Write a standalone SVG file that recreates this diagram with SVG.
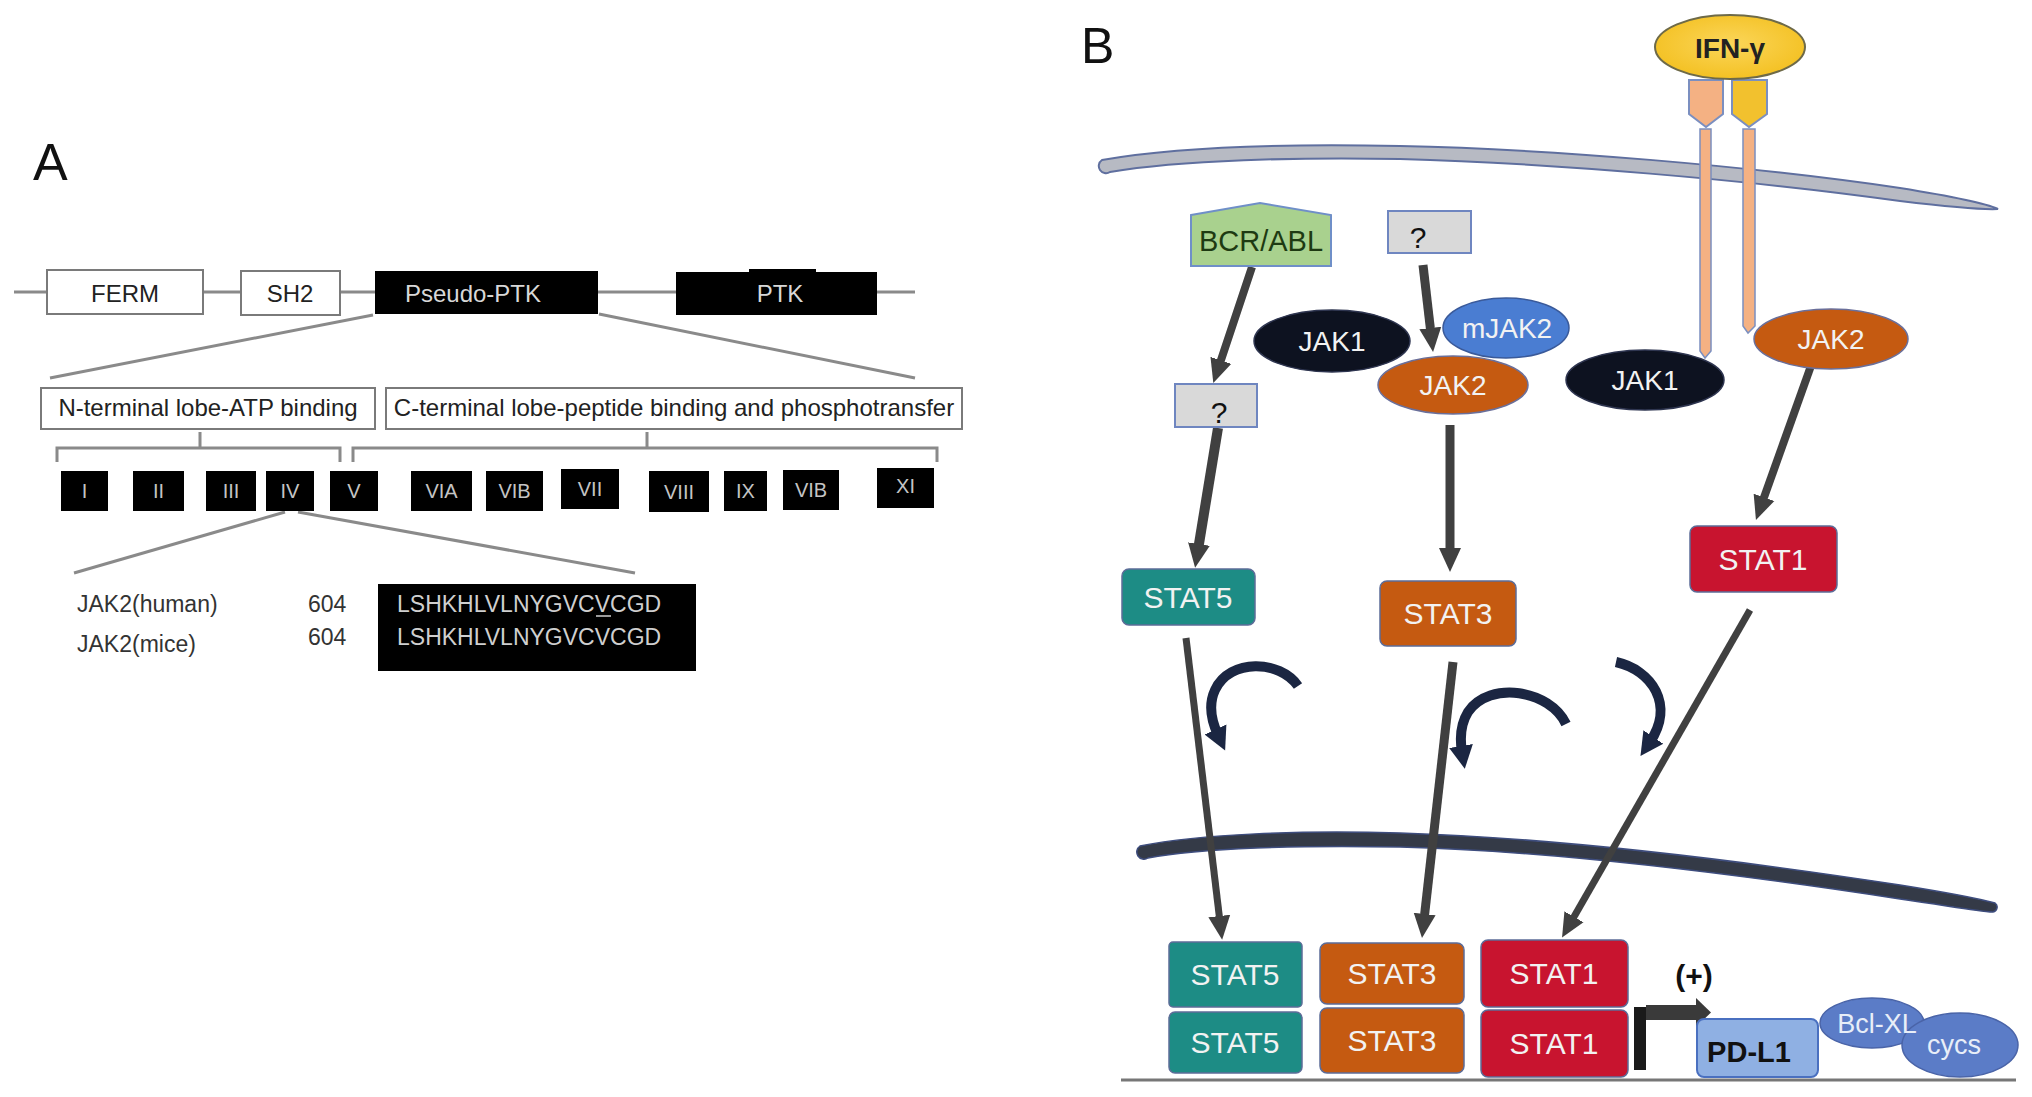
<svg xmlns="http://www.w3.org/2000/svg" width="2032" height="1097" viewBox="0 0 2032 1097">
<style>
text{font-family:"Liberation Sans",Arial,sans-serif}
.ln{stroke:#8a8a8a;stroke-width:3;fill:none}
.wb{fill:#fff;stroke:#7a7a7a;stroke-width:2}
.bb{fill:#000}
.rn{font-size:20px;fill:#c4c4c4;text-anchor:middle}
.ta{font-size:24px;fill:#222;text-anchor:middle}
.tw{fill:#f2f2f2;text-anchor:middle}
.jak{font-size:28px}
.st{font-size:30px}
.arr{stroke:#404040;fill:none;stroke-linecap:butt}
.carr{stroke:#1b2642;fill:none;stroke-width:10;stroke-linecap:butt}
.bx{stroke:#5c6c98;stroke-width:1.5}
</style>
<defs>
<marker id="ah" markerUnits="userSpaceOnUse" markerWidth="26" markerHeight="26" refX="6" refY="12" orient="auto">
<path d="M0,1 L24,12 L0,23 Z" fill="#404040"/>
</marker>
<marker id="ahc" markerUnits="userSpaceOnUse" markerWidth="28" markerHeight="28" refX="6" refY="13" orient="auto">
<path d="M0,1 L23,13 L0,25 Z" fill="#1b2642"/>
</marker>
<linearGradient id="c3" x1="0" y1="0" x2="0" y2="1">
<stop offset="0" stop-color="#7d8fb2"/>
<stop offset="1" stop-color="#1b2642"/>
</linearGradient>
<radialGradient id="ifn" cx="0.5" cy="0.45" r="0.6">
<stop offset="0" stop-color="#fbd65a"/>
<stop offset="1" stop-color="#f3bf1e"/>
</radialGradient>
</defs>

<!-- Panel A -->
<text x="33" y="180" font-size="52" fill="#111">A</text>
<g id="a-lines">
<line class="ln" x1="14" y1="292" x2="915" y2="292"/>
<line class="ln" x1="373" y1="315" x2="50" y2="378"/>
<line class="ln" x1="599" y1="314" x2="915" y2="378"/>
<path class="ln" stroke-width="2.5" d="M57,462 V448 H340 V462 M200,448 V432"/>
<path class="ln" stroke-width="2.5" d="M353,462 V448 H937 V462 M647,448 V432"/>
<line class="ln" x1="285" y1="512" x2="74" y2="573"/>
<line class="ln" x1="298" y1="512" x2="635" y2="573"/>
</g>
<g id="ferm"><rect class="wb" x="47" y="270" width="156" height="44"/><text class="ta" x="125" y="302">FERM</text></g>
<g id="sh2"><rect class="wb" x="241" y="271" width="99" height="44"/><text class="ta" x="290" y="302">SH2</text></g>
<g id="pseudo-ptk"><rect class="bb" x="375" y="271" width="223" height="43"/><text class="ta" x="473" y="302" style="fill:#d8d8d8">Pseudo-PTK</text></g>
<g id="ptk"><rect class="bb" x="676" y="272" width="201" height="43"/><rect class="bb" x="749" y="269" width="67" height="6"/><text class="ta" x="780" y="302" style="fill:#d8d8d8">PTK</text></g>
<g id="n-lobe"><rect class="wb" x="41" y="388" width="334" height="41"/><text class="ta" x="208" y="416">N-terminal lobe-ATP binding</text></g>
<g id="c-lobe"><rect class="wb" x="386" y="388" width="576" height="41"/><text class="ta" x="674" y="416">C-terminal lobe-peptide binding and phosphotransfer</text></g>
<g id="sub-I"><rect class="bb" x="61" y="471" width="47" height="40"/><text class="rn" x="84.5" y="498">I</text></g>
<g id="sub-II"><rect class="bb" x="133" y="471" width="51" height="40"/><text class="rn" x="158.5" y="498">II</text></g>
<g id="sub-III"><rect class="bb" x="206" y="471" width="50" height="40"/><text class="rn" x="231" y="498">III</text></g>
<g id="sub-IV"><rect class="bb" x="266" y="471" width="48" height="40"/><text class="rn" x="290" y="498">IV</text></g>
<g id="sub-V"><rect class="bb" x="330" y="471" width="48" height="40"/><text class="rn" x="354" y="498">V</text></g>
<g id="sub-VIA"><rect class="bb" x="411" y="471" width="61" height="40"/><text class="rn" x="441.5" y="498">VIA</text></g>
<g id="sub-VIB"><rect class="bb" x="486" y="471" width="57" height="40"/><text class="rn" x="514.5" y="498">VIB</text></g>
<g id="sub-VII"><rect class="bb" x="561" y="469" width="58" height="40"/><text class="rn" x="590" y="496">VII</text></g>
<g id="sub-VIII"><rect class="bb" x="649" y="471" width="60" height="41"/><text class="rn" x="679" y="499">VIII</text></g>
<g id="sub-IX"><rect class="bb" x="724" y="471" width="43" height="40"/><text class="rn" x="745.5" y="498">IX</text></g>
<g id="sub-VIB2"><rect class="bb" x="783" y="470" width="56" height="40"/><text class="rn" x="811" y="497">VIB</text></g>
<g id="sub-XI"><rect class="bb" x="877" y="468" width="57" height="40"/><text class="rn" x="905.5" y="493">XI</text></g>
<g id="seq-labels">
<text x="77" y="612" font-size="23" fill="#333">JAK2(human)</text>
<text x="77" y="652" font-size="23" fill="#333">JAK2(mice)</text>
<text x="308" y="612" font-size="23" fill="#333">604</text>
<text x="308" y="645" font-size="23" fill="#333">604</text>
</g>
<g id="seq">
<rect x="378" y="584" width="318" height="87" fill="#000"/>
<text x="397" y="612" font-size="23" fill="#cfcfcf">LSHKHLVLNYGVCVCGD</text>
<line x1="596" y1="616" x2="611" y2="616" stroke="#cfcfcf" stroke-width="1.5"/>
<text x="397" y="645" font-size="23" fill="#cfcfcf">LSHKHLVLNYGVCVCGD</text>
</g>

<!-- Panel B -->
<text x="1081" y="63" font-size="50" fill="#111">B</text>
<g id="cell-membrane">
<path d="M1102,160 C1180,146 1300,144 1400,146 C1550,149 1750,166 1900,188 C1950,196 1985,203 1998,209 C1980,210 1950,207 1900,201 C1750,180 1550,163 1400,159 C1300,157 1180,160 1110,172 A6,6 0 0 1 1102,160 Z" fill="#b7bac3" stroke="#5f6f9f" stroke-width="2"/>
</g>
<g id="nuclear-membrane">
<path d="M1140,846 C1200,834 1300,830 1400,833 C1560,838 1750,862 1900,885 C1950,893 1980,899 1995,903 A5,5 0 0 1 1993,912 C1975,911 1950,906 1900,899 C1750,876 1560,851 1400,847 C1300,845 1200,848 1148,858 A6,6 0 0 1 1140,846 Z" fill="#343a47" stroke="#3e4d7e" stroke-width="1.5"/>
</g>
<line x1="1121" y1="1080" x2="2016" y2="1080" stroke="#777" stroke-width="3"/>

<g id="ifng-receptor">
<path d="M1689,80 H1723 V114 L1706,127 L1689,114 Z" fill="#f4b183" stroke="#7b8fc0" stroke-width="2"/>
<path d="M1700,129 H1711 V351 L1705,358 L1700,351 Z" fill="#f4b183" stroke="#7b8fc0" stroke-width="1.5"/>
<path d="M1732,80 H1767 V114 L1749,127 L1732,114 Z" fill="#f2c12e" stroke="#7b8fc0" stroke-width="2"/>
<path d="M1743,129 H1755 V326 L1748,333 L1743,326 Z" fill="#f4b183" stroke="#7b8fc0" stroke-width="1.5"/>
</g>
<g id="ifn-gamma">
<ellipse cx="1730" cy="47" rx="75" ry="32" fill="url(#ifn)" stroke="#6e6a48" stroke-width="2"/>
<text x="1730" y="58" font-size="28" font-weight="bold" fill="#222" text-anchor="middle">IFN-γ</text>
</g>

<g id="connectors">
<line class="arr" stroke-width="8" x1="1252" y1="267" x2="1219" y2="366" marker-end="url(#ah)"/>
<line class="arr" stroke-width="10" x1="1218" y1="428" x2="1198" y2="550" marker-end="url(#ah)"/>
<line class="arr" stroke-width="9" x1="1423" y1="265" x2="1431" y2="334" marker-end="url(#ah)"/>
<line class="arr" stroke-width="9" x1="1450" y1="425" x2="1450" y2="554" marker-end="url(#ah)"/>
<line class="arr" stroke-width="8" x1="1812" y1="363" x2="1762" y2="503" marker-end="url(#ah)"/>
<line class="arr" stroke-width="7" x1="1186" y1="638" x2="1220" y2="922" marker-end="url(#ah)"/>
<line class="arr" stroke-width="9" x1="1453" y1="662" x2="1424" y2="920" marker-end="url(#ah)"/>
<line class="arr" stroke-width="7" x1="1750" y1="610" x2="1571" y2="922" marker-end="url(#ah)"/>
<path class="carr" d="M1298,686 C1280,660 1230,658 1215,690 C1208,705 1212,722 1218,735" marker-end="url(#ahc)"/>
<path class="carr" d="M1566,724 C1550,690 1490,680 1468,712 C1460,725 1460,740 1462,752" marker-end="url(#ahc)"/>
<path class="carr" stroke="url(#c3)" d="M1616,662 C1652,670 1675,705 1650,742" marker-end="url(#ahc)"/>
</g>

<g id="bcr-abl">
<path d="M1191,215 L1260,203 L1331,215 V266 H1191 Z" fill="#a9d18e" stroke="#6f8fc8" stroke-width="2"/>
<text x="1261" y="251" font-size="29" fill="#1e3a12" text-anchor="middle">BCR/ABL</text>
</g>
<g id="unknown-top">
<rect x="1388" y="211" width="83" height="42" fill="#d9d9d9" stroke="#6f86c0" stroke-width="2"/>
<text x="1418" y="248" font-size="30" fill="#111" text-anchor="middle">?</text>
</g>
<g id="unknown-left">
<rect x="1175" y="384" width="82" height="43" fill="#d9d9d9" stroke="#6f86c0" stroke-width="2"/>
<text x="1219" y="423" font-size="30" fill="#111" text-anchor="middle">?</text>
</g>
<g id="jak1-left">
<ellipse cx="1332" cy="341" rx="78" ry="31" fill="#0d1220" stroke="#2e3550" stroke-width="1.5"/>
<text class="tw jak" x="1332" y="351">JAK1</text>
</g>
<g id="mjak2">
<ellipse cx="1506" cy="328" rx="63" ry="30" fill="#4a7dd2" stroke="#3a5a9a" stroke-width="1.5"/>
<text class="tw jak" x="1507" y="338">mJAK2</text>
</g>
<g id="jak2-mid">
<ellipse cx="1453" cy="385" rx="75" ry="29" fill="#c55a11" stroke="#6a6f9a" stroke-width="1.5"/>
<text class="tw jak" x="1453" y="395">JAK2</text>
</g>
<g id="jak1-right">
<ellipse cx="1645" cy="380" rx="79" ry="30" fill="#0d1220" stroke="#2e3550" stroke-width="1.5"/>
<text class="tw jak" x="1645" y="390">JAK1</text>
</g>
<g id="jak2-right">
<ellipse cx="1831" cy="339" rx="77" ry="30" fill="#c55a11" stroke="#6a6f9a" stroke-width="1.5"/>
<text class="tw jak" x="1831" y="349">JAK2</text>
</g>
<g id="stat5">
<rect class="bx" x="1122" y="569" width="133" height="56" rx="7" fill="#1d8c85"/>
<text class="tw st" x="1188" y="608">STAT5</text>
</g>
<g id="stat3">
<rect class="bx" x="1380" y="581" width="136" height="65" rx="7" fill="#c55a11"/>
<text class="tw st" x="1448" y="624">STAT3</text>
</g>
<g id="stat1">
<rect class="bx" x="1690" y="526" width="147" height="66" rx="7" fill="#c8142f"/>
<text class="tw st" x="1763" y="570">STAT1</text>
</g>
<g id="stat5-dimer">
<rect class="bx" x="1169" y="942" width="133" height="65" rx="4" fill="#1d8c85"/>
<text class="tw st" x="1235" y="985">STAT5</text>
<rect class="bx" x="1169" y="1012" width="133" height="61" rx="6" fill="#1d8c85"/>
<text class="tw st" x="1235" y="1053">STAT5</text>
</g>
<g id="stat3-dimer">
<rect class="bx" x="1320" y="943" width="144" height="61" rx="7" fill="#c55a11"/>
<text class="tw st" x="1392" y="984">STAT3</text>
<rect class="bx" x="1320" y="1008" width="144" height="65" rx="7" fill="#c55a11"/>
<text class="tw st" x="1392" y="1051">STAT3</text>
</g>
<g id="stat1-dimer">
<rect class="bx" x="1481" y="940" width="147" height="67" rx="7" fill="#c8142f"/>
<text class="tw st" x="1554" y="984">STAT1</text>
<rect class="bx" x="1481" y="1010" width="147" height="67" rx="7" fill="#c8142f"/>
<text class="tw st" x="1554" y="1054">STAT1</text>
</g>
<g id="transcription">
<rect x="1634" y="1007" width="12" height="63" fill="#1a1a1a"/>
<rect x="1646" y="1005" width="52" height="15" fill="#3a3a3a"/>
<path d="M1696,998 L1711,1012.5 L1696,1027 Z" fill="#3a3a3a"/>
<text x="1694" y="986" font-size="30" font-weight="bold" fill="#111" text-anchor="middle">(+)</text>
</g>
<g id="pd-l1">
<rect x="1697" y="1019" width="121" height="58" rx="7" fill="#8fb0e3" stroke="#4a70c0" stroke-width="2"/>
<text x="1749" y="1062" font-size="29" font-weight="bold" fill="#111" text-anchor="middle">PD-L1</text>
</g>
<g id="bcl-xl-cycs">
<ellipse cx="1872" cy="1023" rx="52" ry="25" fill="#5b7cc7" stroke="#4a64a8" stroke-width="1.5"/>
<ellipse cx="1960" cy="1045" rx="58" ry="32" fill="#5b7cc7" stroke="#4a64a8" stroke-width="1.5"/>
<text x="1877" y="1033" font-size="27" fill="#e8eef8" text-anchor="middle">Bcl-XL</text>
<text x="1954" y="1054" font-size="27" fill="#e8eef8" text-anchor="middle">cycs</text>
</g>
</svg>
